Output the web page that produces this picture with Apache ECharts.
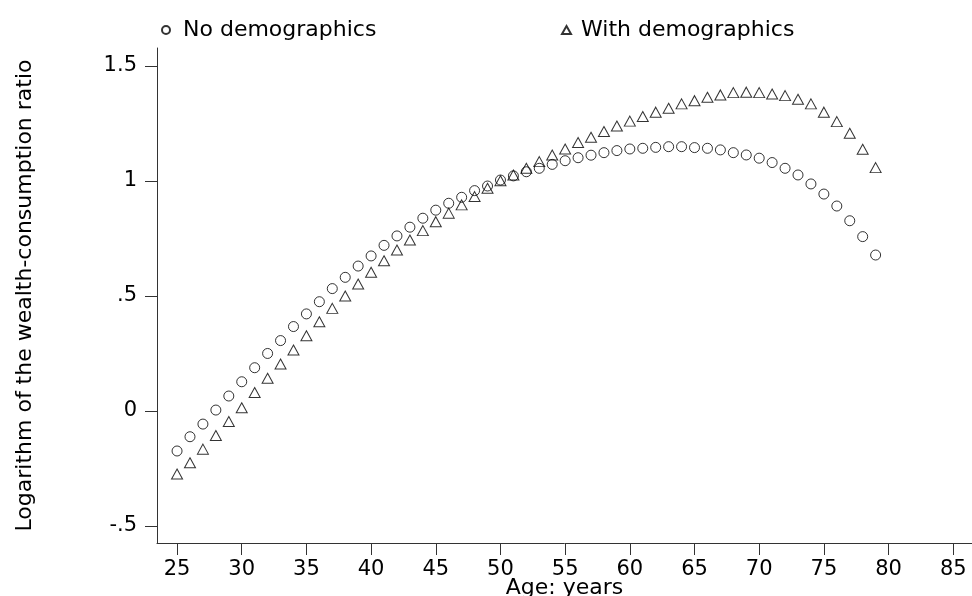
<!DOCTYPE html>
<html><head><meta charset="utf-8">
<script src="https://cdn.jsdelivr.net/npm/echarts@6/dist/echarts.min.js"></script>
<style>html,body{margin:0;padding:0;background:#fff}#c{width:972px;height:596px}</style>
</head><body><div id="c"></div><script>
const ages = [25,26,27,28,29,30,31,32,33,34,35,36,37,38,39,40,41,42,43,44,45,46,47,48,49,50,51,52,53,54,55,56,57,58,59,60,61,62,63,64,65,66,67,68,69,70,71,72,73,74,75,76,77,78,79];
const noDemographics = [-0.174,-0.112,-0.057,0.004,0.065,0.127,0.188,0.25,0.306,0.367,0.422,0.475,0.532,0.581,0.63,0.674,0.72,0.761,0.799,0.838,0.873,0.903,0.929,0.958,0.978,1.004,1.022,1.04,1.055,1.072,1.088,1.101,1.112,1.123,1.132,1.139,1.142,1.146,1.149,1.149,1.145,1.142,1.135,1.123,1.113,1.099,1.08,1.055,1.026,0.987,0.943,0.891,0.827,0.758,0.678];
const withDemographics = [-0.274,-0.225,-0.166,-0.107,-0.046,0.014,0.08,0.142,0.204,0.265,0.327,0.388,0.446,0.5,0.552,0.603,0.653,0.7,0.743,0.784,0.823,0.86,0.896,0.932,0.968,1.001,1.026,1.055,1.084,1.113,1.139,1.167,1.19,1.215,1.239,1.26,1.28,1.299,1.316,1.335,1.349,1.364,1.374,1.384,1.386,1.384,1.378,1.371,1.355,1.335,1.299,1.258,1.207,1.138,1.058];
const xTicks = [25,30,35,40,45,50,55,60,65,70,75,80,85];
const yTicks = [-0.5,0,0.5,1,1.5];
const yTickLabels = ['-.5','0','.5','1','1.5'];

const FONT = 'DejaVu Sans';
const FS = 21;
const axisColor = '#333';
const chart = echarts.init(document.getElementById('c'));
const hollow = {color:'rgba(0,0,0,0)', borderColor:'#000', borderWidth:1};
chart.setOption({
  animation:false,
  backgroundColor:'#fff',
  grid:{left:157, right:0, top:48, bottom:53, containLabel:false, outerBoundsMode:'none'},
  legend:[
    {data:['No demographics'], left:156, top:14, itemWidth:8, itemHeight:8, icon:'circle',
     textStyle:{fontFamily:FONT, fontSize:22, color:'#000', padding:[0,0,0,8]}, selectedMode:false},
    {data:['With demographics'], left:556, top:14, itemWidth:9, itemHeight:8, icon:'triangle',
     textStyle:{fontFamily:FONT, fontSize:22, color:'#000', padding:[0,0,0,5]}, selectedMode:false}
  ],
  xAxis:{
    type:'value', min:23.45, max:86.45,
    axisLine:{show:true, onZero:false, lineStyle:{color:axisColor, width:1}},
    axisTick:{show:true, customValues:xTicks, length:12, lineStyle:{color:axisColor}},
    axisLabel:{customValues:xTicks, margin:16, fontFamily:FONT, fontSize:FS, color:'#000'},
    splitLine:{show:false},
    name:'Age: years', nameLocation:'middle', nameGap:34, nameMoveOverlap:false,
    nameTextStyle:{fontFamily:FONT, fontSize:22, color:'#000'}
  },
  yAxis:{
    type:'value', min:-0.574, max:1.578,
    axisLine:{show:true, onZero:false, lineStyle:{color:axisColor, width:1}},
    axisTick:{show:true, customValues:yTicks, length:12, lineStyle:{color:axisColor}},
    axisLabel:{customValues:yTicks, margin:20, fontFamily:FONT, fontSize:FS, color:'#000',
      formatter:function(v){const i=yTicks.findIndex(t=>Math.abs(t-v)<1e-9);return i>=0?yTickLabels[i]:'';}},
    splitLine:{show:false},
    name:'Logarithm of the wealth-consumption ratio', nameLocation:'middle', nameGap:121, nameMoveOverlap:false,
    nameTextStyle:{fontFamily:FONT, fontSize:22, color:'#000'}
  },
  series:[
    {type:'scatter', name:'No demographics', symbol:'circle', symbolSize:10,
     data:ages.map((a,i)=>[a,noDemographics[i]]), itemStyle:hollow, emphasis:{disabled:true}},
    {type:'scatter', name:'With demographics', symbol:'triangle', symbolSize:[11,10],
     data:ages.map((a,i)=>[a,withDemographics[i]]), itemStyle:hollow, emphasis:{disabled:true}}
  ]
});
</script></body></html>
